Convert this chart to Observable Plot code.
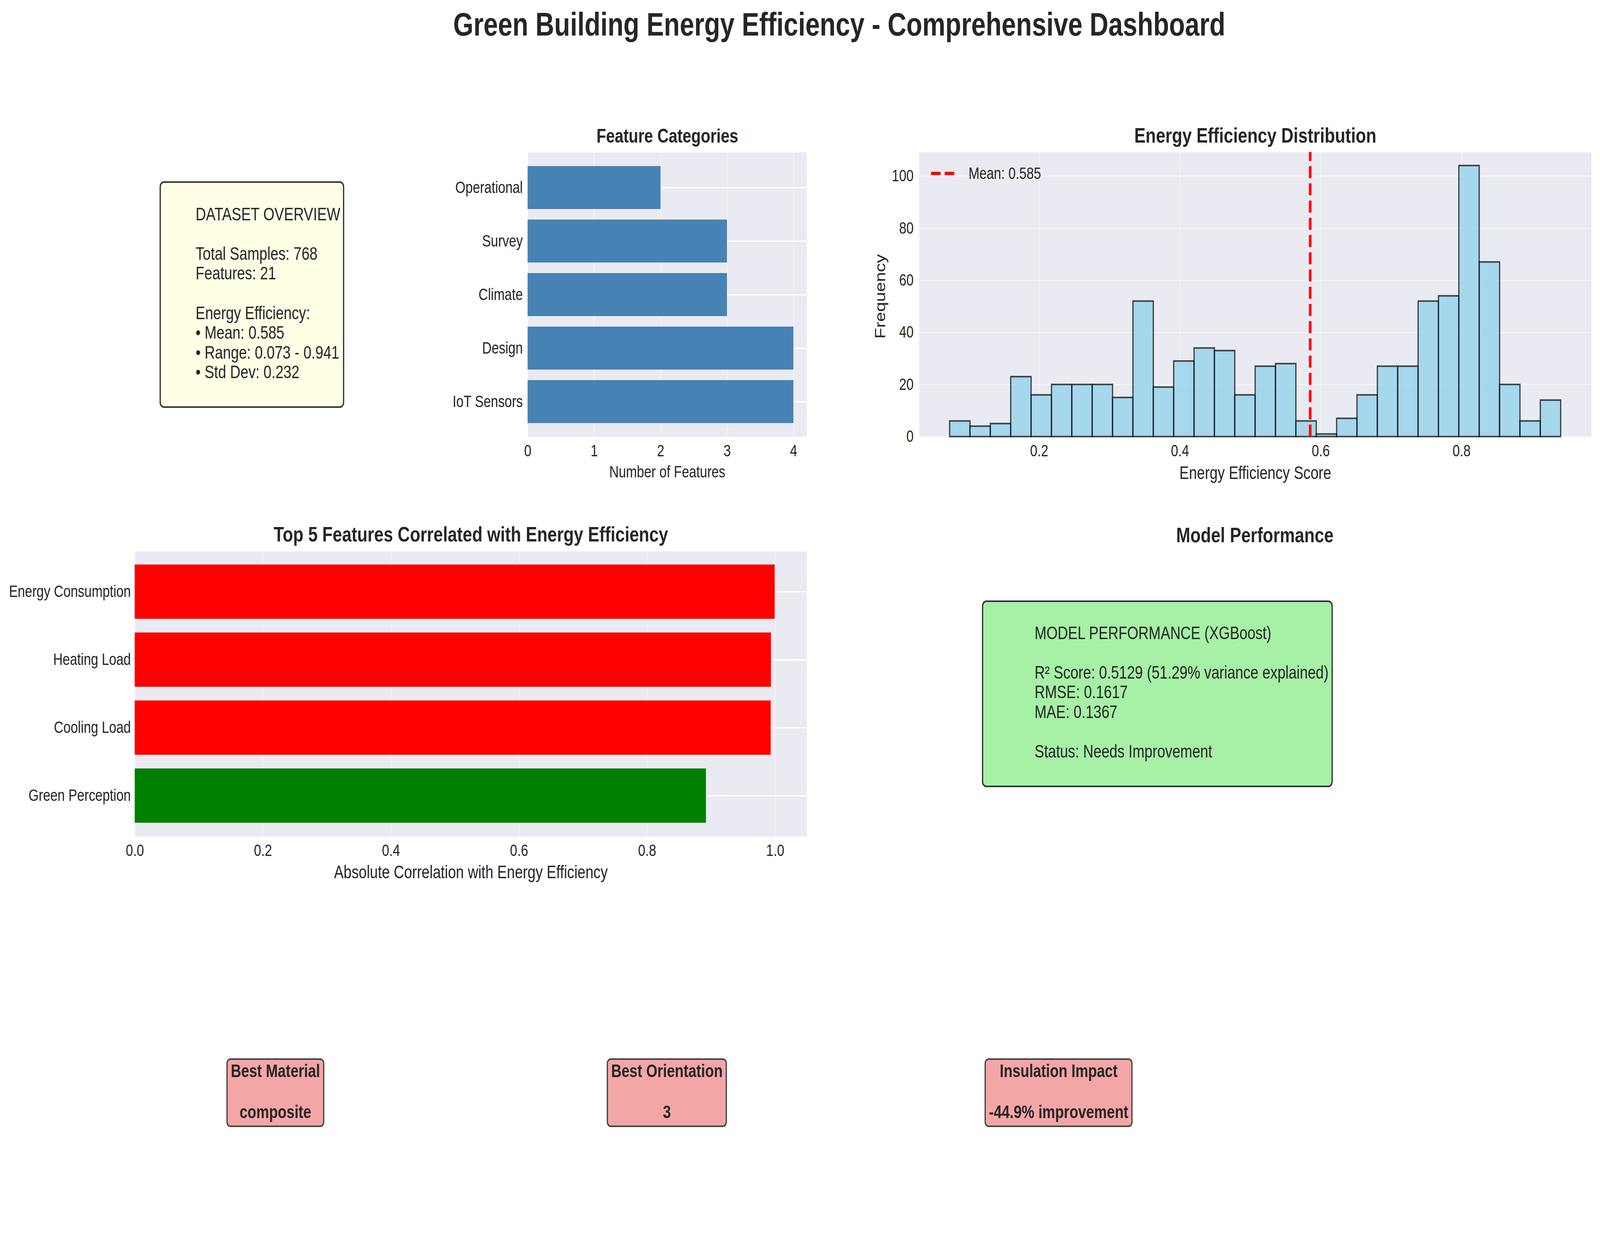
<!DOCTYPE html>
<html><head><meta charset="utf-8">
<script src="https://cdn.jsdelivr.net/npm/d3@7"></script>
<script src="https://cdn.jsdelivr.net/npm/@observablehq/plot@0.6"></script>
<style>
html,body{margin:0;padding:0;background:#fff;overflow:hidden;}
#wrap{position:relative;overflow:hidden;width:5113px;height:3192px;}
#page{position:absolute;left:0;top:0;width:5113px;height:3192px;background:#fff;font-family:"Liberation Sans",Arial,sans-serif;color:#262626;overflow:hidden;transform-origin:0 0;}
.abs{position:absolute;}
.box{position:absolute;box-sizing:border-box;border:4px solid #333;border-radius:14px;}
.lines{position:absolute;white-space:pre;font-size:45.8px;line-height:50.6px;color:#262626;}
.ibox{position:absolute;box-sizing:border-box;border:4px solid #444;border-radius:13px;background:#F4A6A6;font-weight:bold;font-size:45.8px;line-height:52.5px;text-align:center;white-space:pre;padding:3px 10px 0 10px;height:176px;transform:translateX(-50%);color:#262626;}
</style></head><body><div id="wrap"><div id="page"></div></div>
<script>
// ---------------- data ----------------
const mainTitle = "Green Building Energy Efficiency - Comprehensive Dashboard";

const categoryNames = ["Operational", "Survey", "Climate", "Design", "IoT Sensors"];
const categoryCounts = [2, 3, 3, 4, 4];
const categoryTicks = [0, 1, 2, 3, 4];

const histCounts = [6, 4, 5, 23, 16, 20, 20, 20, 15, 52, 19, 29, 34, 33, 16, 27, 28, 6, 1, 7, 16, 27, 27, 52, 54, 104, 67, 20, 6, 14];
const histBins = 30;
const effMin = 0.073, effMax = 0.941, effMean = 0.585, effStd = 0.232;
const histXTicks = [0.2, 0.4, 0.6, 0.8];
const histYTicks = [0, 20, 40, 60, 80, 100];

const corrFeatures = ["Energy Consumption", "Heating Load", "Cooling Load", "Green Perception"];
const corrValues = [-0.9995, -0.9936, -0.9932, 0.892];
const corrTicks = [0, 0.2, 0.4, 0.6, 0.8, 1.0];

const totalSamples = 768, nFeatures = 21;
const modelName = "XGBoost", r2 = 0.5129, rmse = 0.1617, mae = 0.1367, modelStatus = "Needs Improvement";

const insightTitles = ["Best Material", "Best Orientation", "Insulation Impact"];
const insightValues = ["composite", "3", "-44.9% improvement"];

// ---------------- layout helpers ----------------
const wrap = document.getElementById("wrap");
const page = document.getElementById("page");
function fit() {
  const vw = window.innerWidth || document.documentElement.clientWidth || 5113;
  const vh = window.innerHeight || document.documentElement.clientHeight || 3192;
  const sx = vw / 5113, sy = vh / 3192;
  page.style.transform = `scale(${sx}, ${sy})`;
  wrap.style.width = (5113 * sx) + "px";
  wrap.style.height = (3192 * sy) + "px";
}
fit();
window.addEventListener("resize", fit);

const FONT = "'Liberation Sans', Arial, sans-serif";
const BG = "#EAEAF2";
const TXT = "#262626";
function addDiv(html, style) {
  const d = document.createElement("div");
  d.className = "abs";
  d.innerHTML = html;
  Object.assign(d.style, style);
  page.appendChild(d);
  return d;
}
function placePlot(plot, L, T, m) {
  const w = document.createElement("div");
  w.className = "abs";
  w.style.left = (L - m.l) + "px";
  w.style.top = (T - m.t) + "px";
  w.appendChild(plot);
  page.appendChild(w);
}
function baseStyle() {
  return {fontFamily: FONT, fontSize: "41.7px", color: TXT, background: "transparent", overflow: "visible"};
}

// main title
addDiv(mainTitle, {left: "0px", width: "5364px", top: "21px", textAlign: "center", fontSize: "83px", fontWeight: "bold", lineHeight: "83px", color: TXT, whiteSpace: "nowrap"});

// ---------------- Feature Categories ----------------
{
  const L = 1686, R = 2578, T = 390, B = 1117.5;
  const m = {l: 300, r: 20, t: 90, b: 130};
  const rows = categoryNames.map((n, i) => ({name: n, count: categoryCounts[i]}));
  const p = Plot.plot({
    width: R - L + m.l + m.r, height: B - T + m.t + m.b,
    marginLeft: m.l, marginRight: m.r, marginTop: m.t, marginBottom: m.b,
    style: baseStyle(),
    x: {domain: [0, d3.max(categoryCounts) * 1.05]},
    y: {type: "band", domain: categoryNames, paddingInner: 0.2, paddingOuter: 0.24, align: 0.5},
    marks: [
      Plot.frame({fill: BG, stroke: "none"}),
      Plot.gridX({ticks: categoryTicks, stroke: "white", strokeOpacity: 0.35, strokeWidth: 3.5}),
      Plot.gridY({stroke: "white", strokeOpacity: 1, strokeWidth: 3.5}),
      Plot.barX(rows, {x: "count", y: "name", fill: "#4682B4", inset: 0}),
      Plot.axisX({ticks: categoryTicks, tickFormat: d3.format("d"), tickSize: 0, tickPadding: 20, label: null}),
      Plot.axisY({tickSize: 0, tickPadding: 16, label: null}),
      Plot.text(["Feature Categories"], {text: d => d, frameAnchor: "top", dy: -42, lineAnchor: "middle", textAnchor: "middle", fontSize: 50, fontWeight: "bold", fill: TXT}),
      Plot.text(["Number of Features"], {text: d => d, frameAnchor: "bottom", dy: 90.5, lineAnchor: "middle", textAnchor: "middle", fontSize: 41.7, fill: TXT})
    ]
  });
  placePlot(p, L, T, m);
}

// ---------------- Histogram ----------------
{
  const L = 2937, R = 5085, T = 389, B = 1117.5;
  const m = {l: 170, r: 20, t: 90, b: 130};
  const binW = (effMax - effMin) / histBins;
  const rows = histCounts.map((c, i) => ({x1: effMin + i * binW, x2: effMin + (i + 1) * binW, count: c}));
  const xPad = (effMax - effMin) * 0.05;
  const yTop = d3.max(histCounts) * 1.05;
  const p = Plot.plot({
    width: R - L + m.l + m.r, height: B - T + m.t + m.b,
    marginLeft: m.l, marginRight: m.r, marginTop: m.t, marginBottom: m.b,
    style: baseStyle(),
    x: {domain: [effMin - xPad, effMax + xPad]},
    y: {domain: [0, yTop]},
    marks: [
      Plot.frame({fill: BG, stroke: "none"}),
      Plot.gridX({ticks: histXTicks, stroke: "white", strokeOpacity: 0.35, strokeWidth: 3.5}),
      Plot.gridY({ticks: histYTicks, stroke: "white", strokeOpacity: 0.45, strokeWidth: 3.5}),
      Plot.rect(rows, {x1: "x1", x2: "x2", y1: () => 0, y2: "count", inset: 0, fill: "#87CEEB", fillOpacity: 0.7, stroke: "black", strokeOpacity: 0.7, strokeWidth: 4}),
      Plot.ruleX([effMean], {x: d => d, y1: () => 0, y2: () => yTop, stroke: "red", strokeWidth: 8.3, strokeDasharray: "30.8,13.3"}),
      Plot.axisX({ticks: histXTicks, tickFormat: d3.format(".1f"), tickSize: 0, tickPadding: 20, label: null}),
      Plot.axisY({ticks: histYTicks, tickFormat: d3.format("d"), tickSize: 0, tickPadding: 18, label: null}),
      Plot.text(["Energy Efficiency Distribution"], {text: d => d, frameAnchor: "top", dy: -42, lineAnchor: "middle", textAnchor: "middle", fontSize: 54.2, fontWeight: "bold", fill: TXT}),
      Plot.text(["Energy Efficiency Score"], {text: d => d, frameAnchor: "bottom", dy: 93.5, lineAnchor: "middle", textAnchor: "middle", fontSize: 45.8, fill: TXT}),
      Plot.text(["Frequency"], {text: d => d, frameAnchor: "left", dx: -124, dy: 5, rotate: -90, lineAnchor: "middle", textAnchor: "middle", fontSize: 45.8, fill: TXT})
    ]
  });
  placePlot(p, L, T, m);
  // legend
  addDiv(`<svg width="75" height="50" style="position:absolute;left:0;top:0"><line x1="0" x2="75" y1="25" y2="25" stroke="red" stroke-width="8.3" stroke-dasharray="30.8,13.3"/></svg><span style="position:absolute;left:120px;top:0;white-space:nowrap;font-size:41.7px;line-height:50px;color:${TXT}">Mean: ${effMean.toFixed(3)}</span>`,
    {left: "2975px", top: "419px", width: "400px", height: "50px"});
}

// ---------------- Correlations ----------------
{
  const L = 430.5, R = 2578, T = 1411, B = 2141;
  const m = {l: 430.5, r: 20, t: 90, b: 130};
  const rows = corrFeatures.map((n, i) => ({name: n, v: corrValues[i], a: Math.abs(corrValues[i])}));
  const p = Plot.plot({
    width: R - L + m.l + m.r, height: B - T + m.t + m.b,
    marginLeft: m.l, marginRight: m.r, marginTop: m.t, marginBottom: m.b,
    style: baseStyle(),
    x: {domain: [0, d3.max(rows, d => d.a) * 1.05]},
    y: {type: "band", domain: corrFeatures, paddingInner: 0.2, paddingOuter: 0.19, align: 0.5},
    marks: [
      Plot.frame({fill: BG, stroke: "none"}),
      Plot.gridX({ticks: corrTicks, stroke: "white", strokeOpacity: 0.35, strokeWidth: 3.5}),
      Plot.gridY({stroke: "white", strokeOpacity: 1, strokeWidth: 3.5}),
      Plot.barX(rows, {x: "a", y: "name", fill: d => d.v < 0 ? "#FF0000" : "#008000", inset: 0}),
      Plot.axisX({ticks: corrTicks, tickFormat: d3.format(".1f"), tickSize: 0, tickPadding: 20, label: null}),
      Plot.axisY({tickSize: 0, tickPadding: 13, label: null}),
      Plot.text(["Top 5 Features Correlated with Energy Efficiency"], {text: d => d, frameAnchor: "top", dy: -43, lineAnchor: "middle", textAnchor: "middle", fontSize: 54.2, fontWeight: "bold", fill: TXT}),
      Plot.text(["Absolute Correlation with Energy Efficiency"], {text: d => d, frameAnchor: "bottom", dy: 92, lineAnchor: "middle", textAnchor: "middle", fontSize: 45.8, fill: TXT})
    ]
  });
  placePlot(p, L, T, m);
}

// ---------------- Dataset overview box ----------------
{
  const box = addDiv("", {left: "510px", top: "464px", width: "590px", height: "580px"});
  box.className = "box";
  box.style.background = "#FFFFE6";
  const lines = [
    "DATASET OVERVIEW", "",
    `Total Samples: ${totalSamples}`,
    `Features: ${nFeatures}`, "",
    "Energy Efficiency:",
    `\u2022 Mean: ${effMean.toFixed(3)}`,
    `\u2022 Range: ${effMin.toFixed(3)} - ${effMax.toFixed(3)}`,
    `\u2022 Std Dev: ${effStd.toFixed(3)}`
  ].join("\n");
  const t = addDiv("", {left: "625px", top: "523.7px"});
  t.className = "lines";
  t.textContent = lines;
}

// ---------------- Model performance ----------------
{
  addDiv("Model Performance", {left: "3510px", width: "1000px", top: "1342px", textAlign: "center", fontSize: "54.2px", fontWeight: "bold", lineHeight: "54px", color: TXT});
  const box = addDiv("", {left: "3138px", top: "1537px", width: "1121px", height: "478px"});
  box.className = "box";
  box.style.background = "#A6F1A6";
  const lines = [
    `MODEL PERFORMANCE (${modelName})`, "",
    `R\u00B2 Score: ${r2.toFixed(4)} (${(r2 * 100).toFixed(2)}% variance explained)`,
    `RMSE: ${rmse.toFixed(4)}`,
    `MAE: ${mae.toFixed(4)}`, "",
    `Status: ${modelStatus}`
  ].join("\n");
  const t = addDiv("", {left: "3306px", top: "1595.7px"});
  t.className = "lines";
  t.textContent = lines;
}

// ---------------- Insight boxes ----------------
{
  const centers = [880, 2131, 3383];
  insightTitles.forEach((title, i) => {
    const d = addDiv("", {left: centers[i] + "px", top: "2709px"});
    d.className = "ibox";
    d.textContent = title + "\n\n" + insightValues[i];
  });
}
</script></body></html>
